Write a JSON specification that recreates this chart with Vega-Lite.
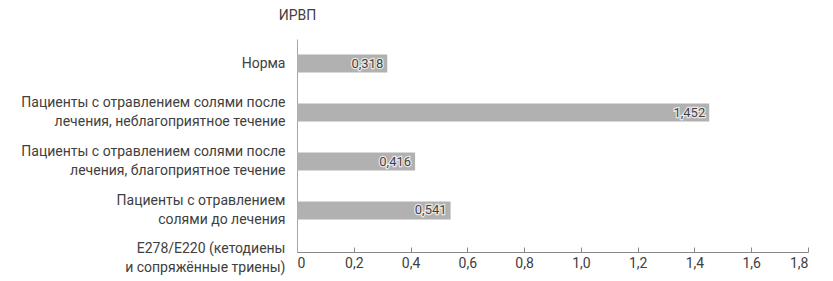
{
  "$schema": "https://vega.github.io/schema/vega-lite/v6.json",
  "width": 511,
  "height": 213,
  "autosize": "none",
  "padding": {"left": 297, "top": 39, "right": 25, "bottom": 29},
  "config": {
    "locale": {"number": {"decimal": ",", "thousands": " ", "grouping": [3], "currency": ["", ""]}},
    "view": {"stroke": null},
    "font": "Roboto"
  },
  "data": {
    "values": [
      {"group": "Норма", "value": 0.318},
      {"group": "Пациенты с отравлением солями после|лечения, неблагоприятное течение", "value": 1.452},
      {"group": "Пациенты с отравлением солями после|лечения, благоприятное течение", "value": 0.416},
      {"group": "Пациенты с отравлением|солями до лечения", "value": 0.541}
    ]
  },
  "encoding": {
    "y": {
      "field": "group",
      "type": "nominal",
      "sort": null,
      "scale": {"paddingInner": 0.633, "paddingOuter": 0.49, "align": 0.323},
      "axis": {
        "labelExpr": "split(datum.label, '|')",
        "labelLineHeight": 19,
        "labelFontSize": 14,
        "labelColor": "#404040",
        "labelPadding": 12,
        "labelLimit": 0,
        "labelOffset": {"condition": {"test": "indexof(datum.value, '|') >= 0", "value": -9.5}, "value": 0},
        "ticks": false,
        "domainColor": "#a6a6a6",
        "title": "ИРВП",
        "titleAngle": 0,
        "titleX": 0,
        "titleY": -24,
        "titleAlign": "center",
        "titleBaseline": "middle",
        "titleFontWeight": "normal",
        "titleFontSize": 14,
        "titleColor": "#404040"
      }
    },
    "x": {
      "field": "value",
      "type": "quantitative",
      "scale": {"domain": [0, 1.8], "nice": false},
      "axis": {
        "values": [0, 0.2, 0.4, 0.6, 0.8, 1.0, 1.2, 1.4, 1.6, 1.8],
        "format": ".1f",
        "labelExpr": "datum.value == 0 ? '0' : datum.label",
        "labelFontSize": 14,
        "labelColor": "#404040",
        "labelPadding": 9,
        "tickSize": -5,
        "tickColor": "#888888",
        "domainColor": "#888888",
        "grid": false,
        "title": ["E278/E220 (кетодиены", "и сопряжённые триены)"],
        "titleX": -12,
        "titleY": -11,
        "titleAlign": "right",
        "titleBaseline": "top",
        "titleAnchor": null,
        "titleLineHeight": 19,
        "titleFontWeight": "normal",
        "titleFontSize": 14,
        "titleColor": "#404040"
      }
    }
  },
  "layer": [
    {"mark": {"type": "bar", "color": "#b1b1b1"}},
    {
      "mark": {"type": "text", "align": "right", "dx": -4, "fontSize": 13, "stroke": "white", "strokeWidth": 2.5, "strokeOpacity": 0.7, "fill": "white"},
      "encoding": {"text": {"field": "value", "type": "quantitative", "format": ".3f"}}
    },
    {
      "mark": {"type": "text", "align": "right", "dx": -4, "fontSize": 13, "color": "#404040"},
      "encoding": {"text": {"field": "value", "type": "quantitative", "format": ".3f"}}
    }
  ]
}
